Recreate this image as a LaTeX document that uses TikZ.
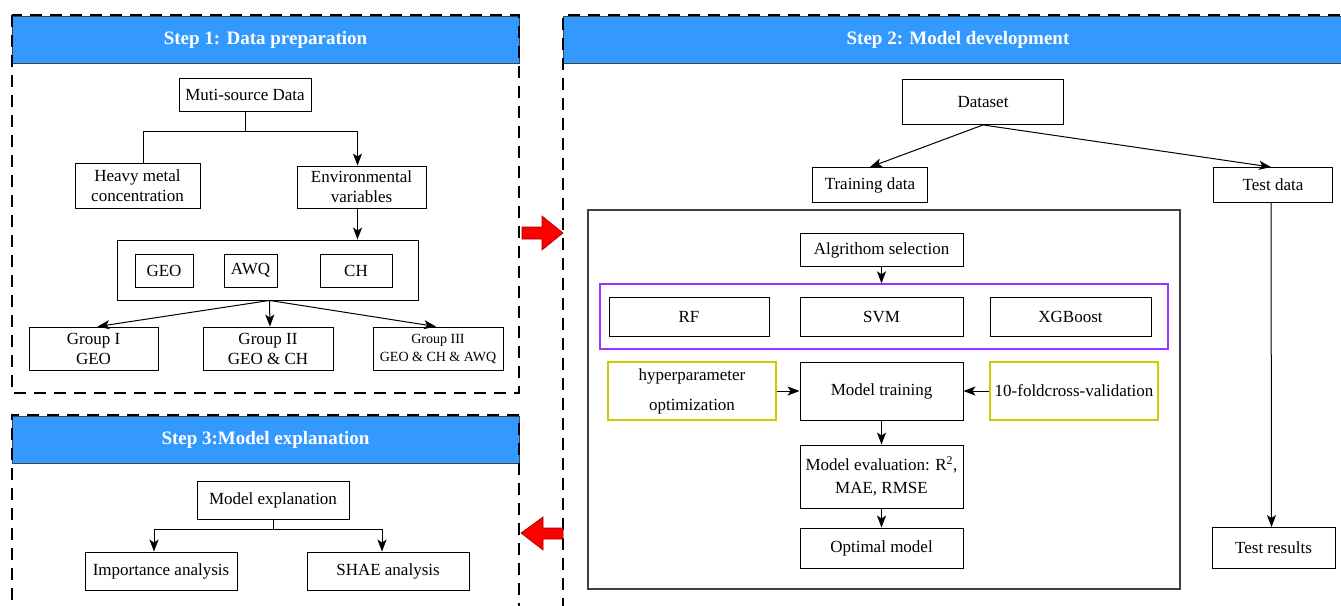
\documentclass[tikz,border=0pt]{standalone}
\usepackage{fontspec}
\setmainfont{Liberation Serif}
\usepackage{tikz}
\usetikzlibrary{arrows.meta}

\definecolor{stepblue}{RGB}{51,153,255}
\definecolor{algpurple}{RGB}{153,51,255}
\definecolor{tuneyellow}{RGB}{204,204,0}

\begin{document}
\begin{tikzpicture}[x=1pt, y=-1pt,
  every node/.style = {font=\fontsize{17}{20}\selectfont, align=center,
    inner sep=1pt},
  sz/.style 2 args = {minimum width=#1, minimum height=#2},
  box/.style = {draw, line width=0.9pt, fill=white},
  header/.style = {draw=black!75, line width=0.8pt, fill=stepblue, text=white,
    font=\bfseries\fontsize{19}{22}\selectfont},
  frame/.style = {line width=2pt, dash pattern=on 12pt off 8pt},
  link/.style = {line width=1pt},
  arr/.style = {line width=1pt, -{Stealth[length=12pt, width=9pt, inset=3pt]}}]
    \tikzstyle{redarrow}=[fill=red, draw=red!60!black, line width=0.6pt]
    \tikzstyle{tune}=[draw=tuneyellow, line width=1.3pt, fill=white]

  \useasboundingbox (0,0) rectangle (1341,605);
  \clip (0,0) rectangle (1341,605);

  % headers and dashed frames
  \node[header, sz={507}{47}] (head1) at (265.5,40) {Step 1: Data preparation};
  \node[header, sz={790}{47}] (head2) at (958,40) {Step 2: Model development};
  \node[header, sz={507}{47}] (head3) at (265.5,440) {Step 3:Model explanation};
  \draw[frame] (12,15) rectangle (519,393);
  \draw[frame] (1400,15) -- (563,15) -- (563,700);
  \draw[frame] (12,700) -- (12,415) -- (519,415) -- (519,700);

  % step 1
  \node[box, sz={132}{33}] (muti) at (245,95) {Muti-source Data};
  \node[box, sz={125}{45}] (heavy) at (137.5,185.5) {Heavy metal\\concentration};
  \node[box, sz={129}{42}] (env) at (361.5,187) {Environmental\\variables};
  \node[box, sz={301}{60}] (vars) at (267.5,270) {};
  \node[box, sz={58}{33}] (geo) at (164,270.5) {GEO};
  \node[box, sz={53}{33}] (awq) at (250.5,270.5) {AWQ};
  \node[box, sz={72}{33}] (ch) at (356,270.5) {CH};
  \node[box, sz={129}{43}] (g1) at (93.5,348.5) {Group I\\GEO};
  \node[box, sz={130}{43}] (g2) at (268,348.5) {Group II\\GEO \& CH};
  \node[box, sz={130}{43}, font=\fontsize{14}{18}\selectfont] (g3) at (438,348.5)
    {Group III\\GEO \& CH \& AWQ};
  \coordinate (split1) at (245,131);

  \draw[link] (muti.south) -- (split1) -| ([xshift=6]heavy.north);
  \draw[arr] (split1) -| ([xshift=-4]env.north);
  \draw[arr] ([xshift=-4]env.south) -- ([xshift=-4]env.south |- vars.north);
  \draw[arr] ([xshift=2]vars.south) -- ([xshift=4]g1.north);
  \draw[arr] ([xshift=2]vars.south) -- ([xshift=2]g2.north);
  \draw[arr] ([xshift=2]vars.south) -- ([xshift=-2]g3.north);

  % step 3
  \node[box, sz={152}{38}] (expl) at (273,500.5) {Model explanation};
  \node[box, sz={152}{38}] (imp) at (161,571) {Importance analysis};
  \node[box, sz={162}{38}] (shae) at (388,571) {SHAE analysis};
  \coordinate (split3) at (273,529);

  \draw[link] (expl.south) -- (split3);
  \draw[arr] (split3) -| ([xshift=-7]imp.north);
  \draw[arr] (split3) -| ([xshift=-6]shae.north);

  % red arrows between steps
  \draw[redarrow] (522,227) -- (542,227) -- (542,216) -- (563,233) -- (542,250)
    -- (542,239) -- (522,239) -- cycle;
  \draw[redarrow] (563,528) -- (543,528) -- (543,517) -- (521,533) -- (543,550)
    -- (543,539) -- (563,539) -- cycle;

  % step 2
  \node[box, sz={161}{45}] (dataset) at (983,102) {Dataset};
  \node[box, sz={115}{35}] (train) at (870,185) {Training data};
  \node[box, sz={119}{35}] (test) at (1273,185) {Test data};
  \draw[line width=1.2pt, draw=black!75] (588,210) rectangle (1180,589);
  \node[box, sz={163}{33}] (alg) at (881.5,250) {Algrithom selection};
  \node[draw=algpurple, line width=1.3pt, sz={568}{65}] (algos) at (884,316.5) {};
  \node[box, sz={160}{39}] (rf) at (689,316.5) {RF};
  \node[box, sz={163}{39}] (svm) at (881.5,316.5) {SVM};
  \node[box, sz={161}{39}] (xgb) at (1070.5,316.5) {XGBoost};
  \node[tune, sz={168}{58}] (hyper) at (692,391) {hyperparameter\\[10pt]optimization};
  \node[box, sz={163}{58}] (fit) at (881.5,391) {Model training};
  \node[tune, sz={168}{58}] (cv) at (1074,391) {10-foldcross-validation};
  \node[box, sz={163}{63}] (eval) at (881.5,476.5)
    {Model evaluation: R\textsuperscript{2},\\[3pt]MAE, RMSE};
  \node[box, sz={163}{40}] (opt) at (881.5,548) {Optimal model};
  \node[box, sz={123}{41}] (res) at (1273.5,548) {Test results};

  \draw[arr] (dataset.south) -- (train.north);
  \draw[arr] (dataset.south) -- ([xshift=-2]test.north);
  \draw[arr] ([xshift=-2]test.south) -- ([xshift=-2]res.north);
  \draw[arr] (alg.south) -- (alg.south |- algos.north);
  \draw[arr] (hyper.east) -- (fit.west);
  \draw[arr] (cv.west) -- (fit.east);
  \draw[arr] (fit.south) -- (eval.north);
  \draw[arr] (eval.south) -- (opt.north);
\end{tikzpicture}
\end{document}
